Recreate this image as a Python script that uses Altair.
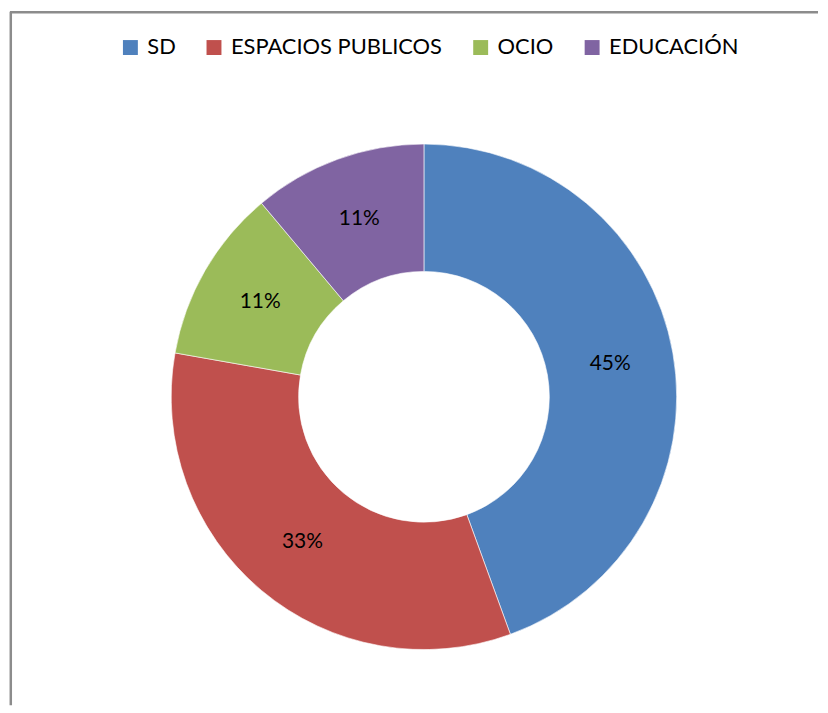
import altair as alt
import pandas as pd

categories = ["SD", "ESPACIOS PUBLICOS", "OCIO", "EDUCACIÓN"]
values = [4, 3, 1, 1]
labels = ["45%", "33%", "11%", "11%"]
colors = ["#4F81BD", "#C0504D", "#9BBB59", "#8064A2"]

df = pd.DataFrame({"cat": categories, "val": values, "lab": labels, "idx": list(range(len(categories)))})

FONT = "Lato"
W, H = 812, 697
CX, CY = 416, 387

base = alt.Chart(df).encode(
    theta=alt.Theta("val:Q", stack=True),
    order=alt.Order("idx:Q"),
)

arcs = base.mark_arc(outerRadius=254, innerRadius=126, stroke="white", strokeWidth=0.6).encode(
    x=alt.value(CX), y=alt.value(CY),
    color=alt.Color("cat:N", sort=categories,
                    scale=alt.Scale(domain=categories, range=colors),
                    legend=alt.Legend(title=None, orient="none", direction="horizontal",
                                      legendX=110, legendY=25, padding=0, symbolType="square",
                                      symbolSize=225, symbolStrokeWidth=0,
                                      labelFont=FONT, labelFontSize=22, labelColor="black",
                                      labelLimit=400, labelOffset=6, columnPadding=27,
                                      columns=4)),
)

texts = base.mark_text(radius=190, font=FONT, fontSize=21, color="black").encode(
    x=alt.value(CX), y=alt.value(CY),
    text="lab:N",
)

frame_df = pd.DataFrame({"k": [0]})
top_rule = alt.Chart(frame_df).mark_rule(color="#8c8c8c", strokeWidth=2.5).encode(
    x=alt.value(0), x2=alt.value(W), y=alt.value(0.5)
)
left_rule = alt.Chart(frame_df).mark_rule(color="#8c8c8c", strokeWidth=2.5).encode(
    x=alt.value(0.8), y=alt.value(0), y2=alt.value(H)
)

chart = (arcs + texts + top_rule + left_rule).properties(
    width=W, height=H,
    padding={"left": 0, "top": 0, "right": 0, "bottom": 0},
    background="white",
).configure_view(stroke=None, strokeWidth=0)

chart.save("out.html", embed_options={"renderer": "svg", "actions": False})
